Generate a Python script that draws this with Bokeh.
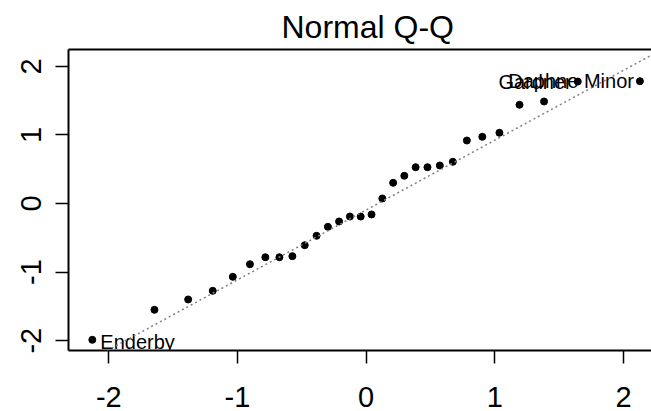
from bokeh.plotting import figure
from bokeh.models import Range1d, LinearAxis, FixedTicker, Slope, ColumnDataSource
from bokeh.core.properties import value
from bokeh.embed import file_html
from bokeh.resources import INLINE

# Theoretical normal quantiles (x) and sorted sample values (y)
theoretical = [-2.128, -1.645, -1.383, -1.192, -1.036, -0.903, -0.783, -0.674, -0.573, -0.477,
               -0.385, -0.297, -0.210, -0.126, -0.042, 0.042, 0.126, 0.210, 0.297, 0.385,
               0.477, 0.573, 0.674, 0.783, 0.903, 1.036, 1.192, 1.383, 1.645, 2.128]
sample = [-1.987, -1.550, -1.399, -1.273, -1.069, -0.885, -0.783, -0.783, -0.768, -0.608,
          -0.471, -0.340, -0.262, -0.190, -0.190, -0.160, 0.073, 0.302, 0.404, 0.529,
          0.529, 0.554, 0.608, 0.918, 0.972, 1.031, 1.439, 1.487, 1.778, 1.783]

# Labelled points
left_names = ["Enderby"]
left_x = [-2.128]
left_y = [-1.987]
right_names = ["Gardner", "Daphne Minor"]
right_x = [1.645, 2.128]
right_y = [1.778, 1.783]

# Reference line (through quartiles)
line_intercept = -0.095
line_slope = 1.018

x_ticks = [-2, -1, 0, 1, 2]
x_tick_labels = ["-2", "-1", "0", "1", "2"]
y_ticks = [-2, -1, 0, 1, 2]
y_tick_labels = ["-2", "-1", "0", "1", "2"]
title_text = "Normal Q-Q"

FONT = "Liberation Sans"

p = figure(width=651, height=411, output_backend="svg", toolbar_location=None,
           x_range=Range1d(-2.313, 2.218), y_range=Range1d(-2.143, 2.245),
           min_border_left=68, min_border_right=0, min_border_top=49, min_border_bottom=61,
           x_axis_type=None, y_axis_type=None)
p.outline_line_color = None
p.background_fill_color = "white"
p.border_fill_color = "white"

p.title.text = title_text
p.title.text_font = FONT
p.title.text_font_size = "32px"
p.title.text_font_style = "normal"
p.title.align = "left"
p.title.offset = 213
p.title.text_color = "black"


def style_axis(ax):
    ax.axis_line_color = "black"
    ax.axis_line_width = 2
    ax.major_tick_line_color = "black"
    ax.major_tick_line_width = 1.5
    ax.major_tick_out = 13
    ax.major_tick_in = 0
    ax.minor_tick_line_color = None
    ax.major_label_text_font = FONT
    ax.major_label_text_font_size = "29px"
    ax.major_label_text_color = "black"


xaxis = LinearAxis(ticker=FixedTicker(ticks=x_ticks),
                   major_label_overrides={t: s for t, s in zip(x_ticks, x_tick_labels)})
style_axis(xaxis)
xaxis.major_label_standoff = 23
p.add_layout(xaxis, "below")

yaxis = LinearAxis(ticker=FixedTicker(ticks=y_ticks),
                   major_label_overrides={t: s for t, s in zip(y_ticks, y_tick_labels)})
style_axis(yaxis)
yaxis.major_label_standoff = 14
yaxis.major_label_orientation = "vertical"
p.add_layout(yaxis, "left")

top_axis = LinearAxis(ticker=FixedTicker(ticks=[]))
top_axis.axis_line_color = "black"
top_axis.axis_line_width = 2
top_axis.major_tick_out = 0
top_axis.major_tick_in = 0
top_axis.minor_tick_out = 0
top_axis.minor_tick_in = 0
top_axis.major_label_text_font_size = "0px"
top_axis.major_label_standoff = 0
p.add_layout(top_axis, "above")

p.add_layout(Slope(gradient=line_slope, y_intercept=line_intercept,
                   line_color="#808080", line_width=1.5, line_dash="2 3"))

p.scatter(theoretical, sample, size=7, color="black", marker="circle")

src_l = ColumnDataSource(dict(x=left_x, y=left_y, t=left_names))
p.text(x="x", y="y", text="t", source=src_l, text_font=value(FONT), text_font_size="20px",
       text_align="left", text_baseline="middle", x_offset=8, y_offset=2, text_color="black")
src_r = ColumnDataSource(dict(x=right_x, y=right_y, t=right_names))
p.text(x="x", y="y", text="t", source=src_r, text_font=value(FONT), text_font_size="20px",
       text_align="right", text_baseline="middle", x_offset=-6, text_color="black")

open("out.html", "w").write(file_html(p, INLINE))
